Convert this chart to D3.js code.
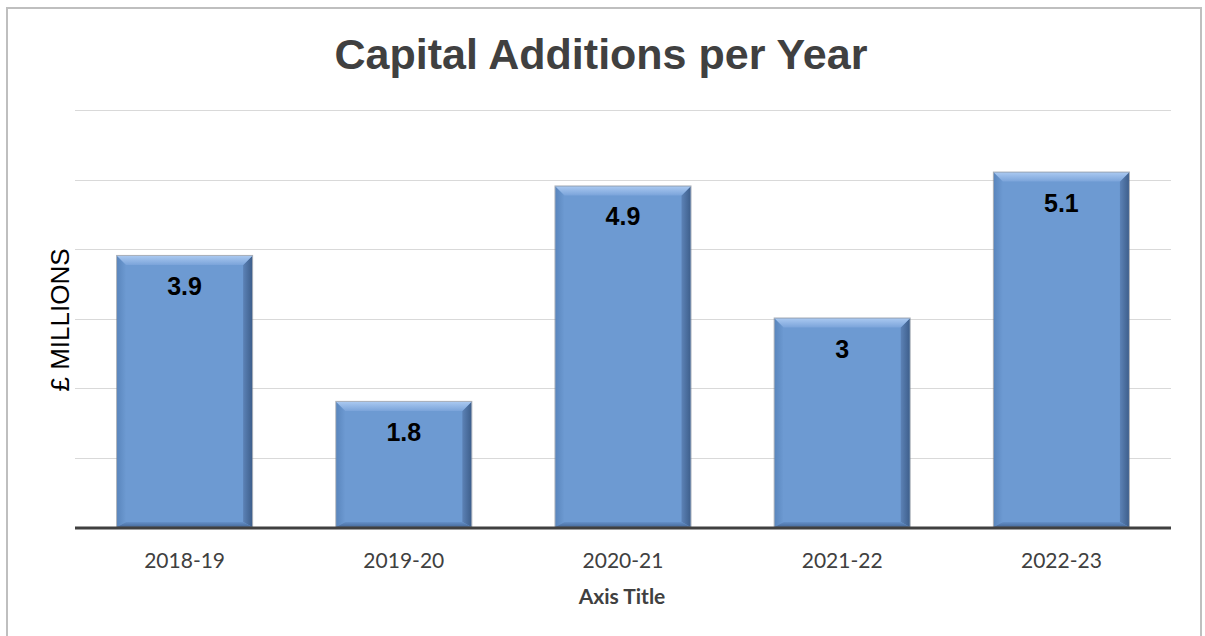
<!DOCTYPE html>
<html>
<head>
<meta charset="utf-8">
<script src="https://cdn.jsdelivr.net/npm/d3@7"></script>
<style>
  body { margin: 0; background: #fff; }
  svg { display: block; }
</style>
</head>
<body>
<svg width="1205" height="636"></svg>
<script>
var years = ["2018-19", "2019-20", "2020-21", "2021-22", "2022-23"]
var additions = [3.9, 1.8, 4.9, 3, 5.1]
var yTicks = [0, 1, 2, 3, 4, 5, 6]

var svg = d3.select("svg")

var defs = svg.append("defs")
function grad(id, x2, y2, c1, c2) {
  var g = defs.append("linearGradient").attr("id", id)
    .attr("x1", 0).attr("y1", 0).attr("x2", x2).attr("y2", y2)
  g.append("stop").attr("offset", 0).attr("stop-color", c1)
  g.append("stop").attr("offset", 1).attr("stop-color", c2)
}
grad("topBev", 0, 1, "#a9c8f0", "#7ba4da")
grad("leftBev", 1, 0, "#5a86bd", "#6d9ad2")
grad("rightBev", 1, 0, "#5c82b6", "#3e5f8c")
grad("botBev", 0, 1, "#6590c8", "#45699a")

// chart border
svg.append("rect").attr("x", 7).attr("y", 8).attr("width", 1194).attr("height", 640)
  .attr("fill", "#fff").attr("stroke", "#bfbfbf").attr("stroke-width", 2)

var x = d3.scaleBand().domain(years).range([75, 1171]).paddingInner(0.384).paddingOuter(0.192)
var y = d3.scaleLinear().domain([0, 6]).range([527, 110])

// gridlines
svg.append("g").selectAll("line").data(yTicks.slice(1)).enter().append("line")
  .attr("x1", 75).attr("x2", 1171)
  .attr("y1", d => Math.round(y(d)) + 0.5).attr("y2", d => Math.round(y(d)) + 0.5)
  .attr("stroke", "#d9d9d9").attr("stroke-width", 1)

// bars with bevel
var bev = 9
var bars = svg.append("g").selectAll("g").data(additions).enter().append("g")

bars.append("rect")
  .attr("x", (d, i) => x(years[i]))
  .attr("y", d => y(d))
  .attr("width", x.bandwidth())
  .attr("height", d => y(0) - y(d))
  .attr("fill", "#6d9ad2")

function poly(pts) { return pts.map(p => p.join(",")).join(" ") }

// left bevel
bars.append("polygon").attr("points", (d, i) => {
  var x0 = x(years[i]), t = y(d), b = y(0)
  return poly([[x0, t], [x0 + bev, t + bev], [x0 + bev, b - 5], [x0, b]])
}).attr("fill", "url(#leftBev)")
// right bevel
bars.append("polygon").attr("points", (d, i) => {
  var x1 = x(years[i]) + x.bandwidth(), t = y(d), b = y(0)
  return poly([[x1, t], [x1 - bev, t + bev], [x1 - bev, b - 5], [x1, b]])
}).attr("fill", "url(#rightBev)")
// bottom bevel
bars.append("polygon").attr("points", (d, i) => {
  var x0 = x(years[i]), x1 = x0 + x.bandwidth(), b = y(0)
  return poly([[x0, b], [x0 + bev, b - 5], [x1 - bev, b - 5], [x1, b]])
}).attr("fill", "url(#botBev)")
// top bevel
bars.append("polygon").attr("points", (d, i) => {
  var x0 = x(years[i]), x1 = x0 + x.bandwidth(), t = y(d)
  return poly([[x0, t], [x1, t], [x1 - bev, t + bev], [x0 + bev, t + bev]])
}).attr("fill", "url(#topBev)")
// edge shadow
bars.append("rect")
  .attr("x", (d, i) => x(years[i]) - 0.5)
  .attr("y", d => y(d) - 0.5)
  .attr("width", x.bandwidth() + 1)
  .attr("height", d => y(0) - y(d) + 0.5)
  .attr("fill", "none").attr("stroke", "#6f7a88").attr("stroke-opacity", 0.6)

// baseline
svg.append("line").attr("x1", 75).attr("x2", 1171).attr("y1", y(0) + 1).attr("y2", y(0) + 1)
  .attr("stroke", "#404040").attr("stroke-width", 3)

// data labels
bars.append("text")
  .attr("x", (d, i) => x(years[i]) + x.bandwidth() / 2)
  .attr("y", d => y(d) + 39)
  .attr("text-anchor", "middle")
  .style("font-family", "'Liberation Sans', Arial, sans-serif")
  .style("font-weight", "bold").style("font-size", "25px").attr("fill", "#000")
  .text(d => d)

// x axis labels
var xAxis = d3.axisBottom(x).tickSize(0).tickPadding(0)
var xg = svg.append("g").attr("transform", "translate(0,568)").call(xAxis)
xg.select(".domain").remove()
xg.selectAll("text").attr("dy", 0)
  .style("font-family", "Lato, 'Open Sans', sans-serif").style("font-size", "21px").attr("fill", "#404040")

// titles
svg.append("text").attr("x", 601).attr("y", 69).attr("text-anchor", "middle")
  .style("font-family", "'Liberation Sans', Arial, sans-serif").style("font-weight", "bold")
  .style("font-size", "43px").attr("fill", "#404040").text("Capital Additions per Year")

svg.append("text").attr("x", 622).attr("y", 604).attr("text-anchor", "middle")
  .style("font-family", "Lato, 'Open Sans', sans-serif").style("font-weight", "bold")
  .style("font-size", "21px").attr("fill", "#404040").text("Axis Title")

svg.append("text").attr("transform", "translate(69,320) rotate(-90)").attr("text-anchor", "middle")
  .style("font-family", "'Liberation Sans', Arial, sans-serif")
  .style("font-size", "26px").attr("fill", "#000").text("£ MILLIONS")
</script>
</body>
</html>
